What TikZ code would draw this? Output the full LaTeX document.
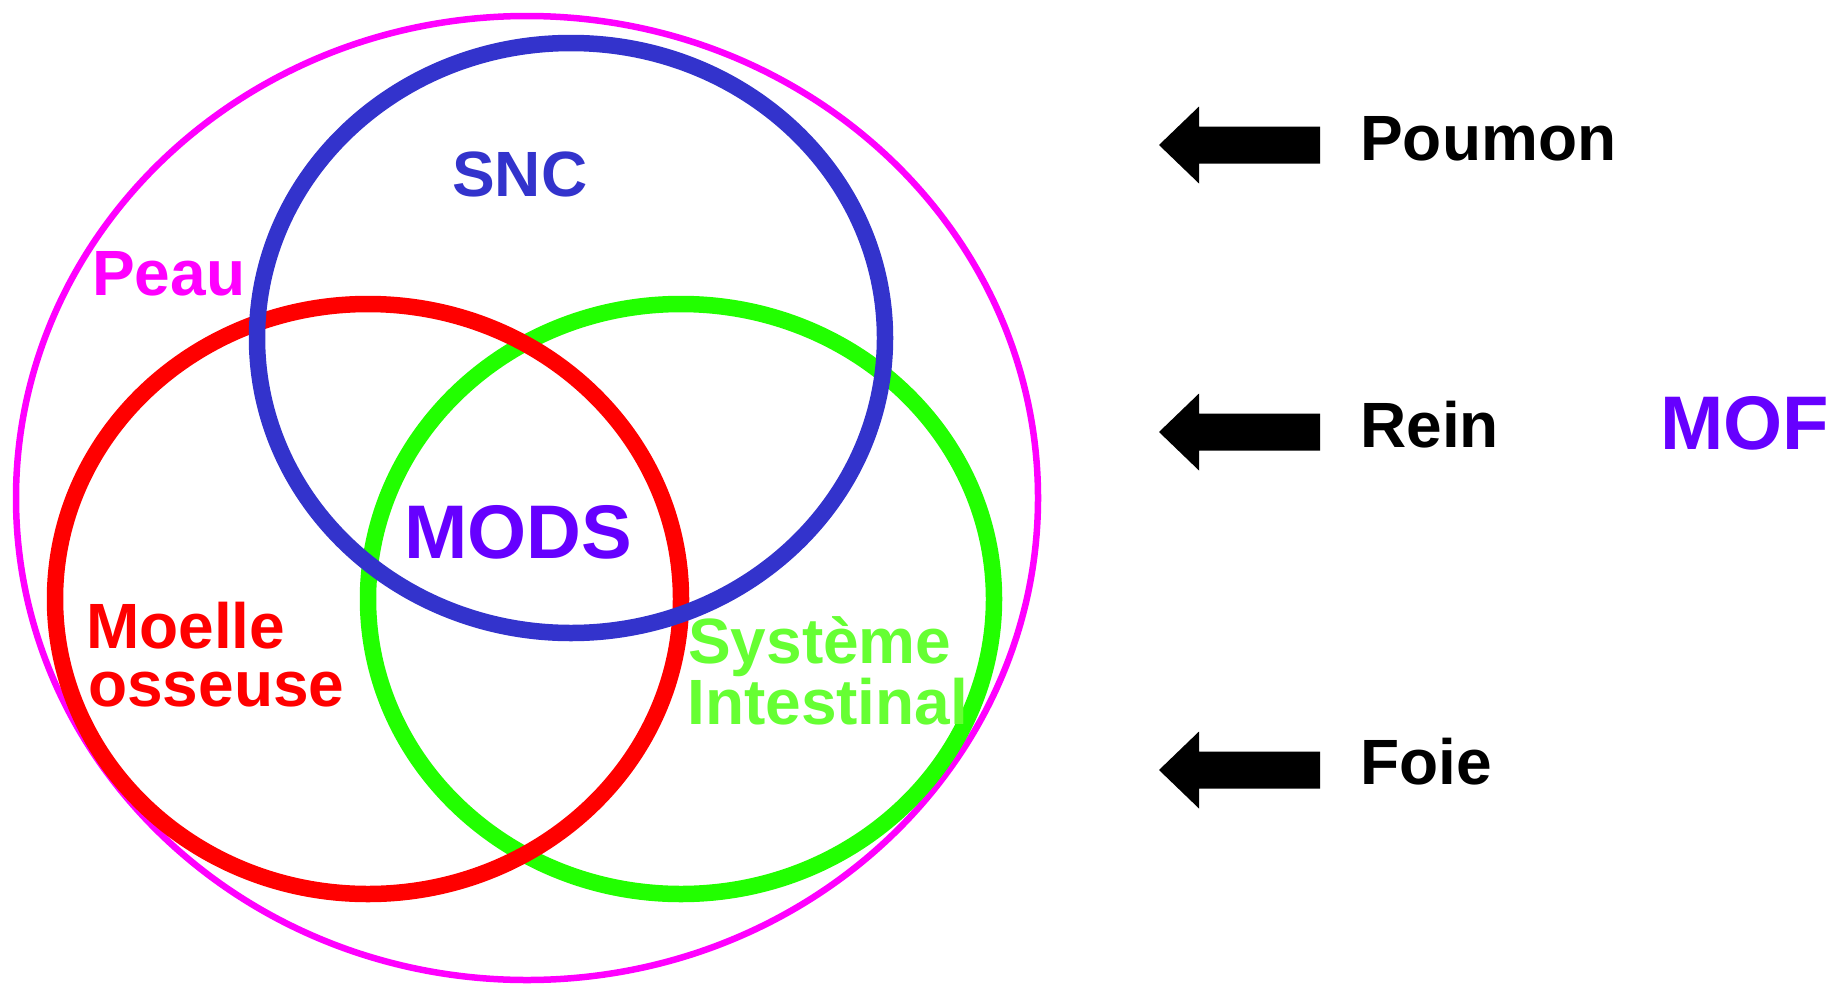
\documentclass[tikz,border=0pt]{standalone}
\usepackage{fontspec}
\setmainfont{Liberation Sans}
\definecolor{skin}{HTML}{FF00FF}
\definecolor{cns}{HTML}{3333CC}
\definecolor{marrow}{HTML}{FF0000}
\definecolor{gut}{HTML}{22FF00}
\definecolor{guttext}{HTML}{66FF33}
\definecolor{mof}{HTML}{6600FF}
\tikzset{
  lbl/.style={font=\fontsize{64}{64}\selectfont\bfseries, inner sep=0pt, anchor=base west},
  biglbl/.style={font=\fontsize{76}{76}\selectfont\bfseries, inner sep=0pt, anchor=base west},
  organ/.style={line width=16.5pt},
  leftarrow/.pic={\fill[black] (0,0) -- (40,-38.5) -- (40,-18.5) -- (161,-18.5)
                   -- (161,18.5) -- (40,18.5) -- (40,38.5) -- cycle;}
}
\begin{document}
\begin{tikzpicture}[x=1pt,y=-1pt]
\useasboundingbox (0,0) rectangle (1830,985);
% outer ellipse: skin
\draw[skin, line width=6.5pt] (527,498) ellipse [x radius=511pt, y radius=482pt];
% organ ellipses
\draw[organ, gut]    (681,599) ellipse [x radius=313pt, y radius=295pt];
\draw[organ, marrow] (368,599) ellipse [x radius=313pt, y radius=295pt];
\draw[organ, cns]    (571,338) ellipse [x radius=314pt, y radius=295pt];
% labels inside the diagram
\node[lbl, text=cns]     (snc)        at (452,196) {SNC};
\node[lbl, text=skin]    (peau)       at (92,295)  {Peau};
\node[biglbl, text=mof]  (mods)       at (404,558) {MODS};
\node[lbl, text=marrow]  (moelle)     at (86,648)  {Moelle};
\node[lbl, text=marrow]  (osseuse)    at (88,706)  {osseuse};
\node[lbl, text=guttext] (systeme)    at (688,663) {Système};
\node[lbl, text=guttext] (intestinal) at (687,724) {Intestinal};
% organs on the right with arrows
\pic at (1159,145) {leftarrow};
\pic at (1159,432) {leftarrow};
\pic at (1159,770) {leftarrow};
\node[lbl] (poumon) at (1360,160) {Poumon};
\node[lbl] (rein)   at (1360,447) {Rein};
\node[lbl] (foie)   at (1360,784) {Foie};
\node[biglbl, text=mof] (mof) at (1660,449) {MOF};
\end{tikzpicture}
\end{document}
